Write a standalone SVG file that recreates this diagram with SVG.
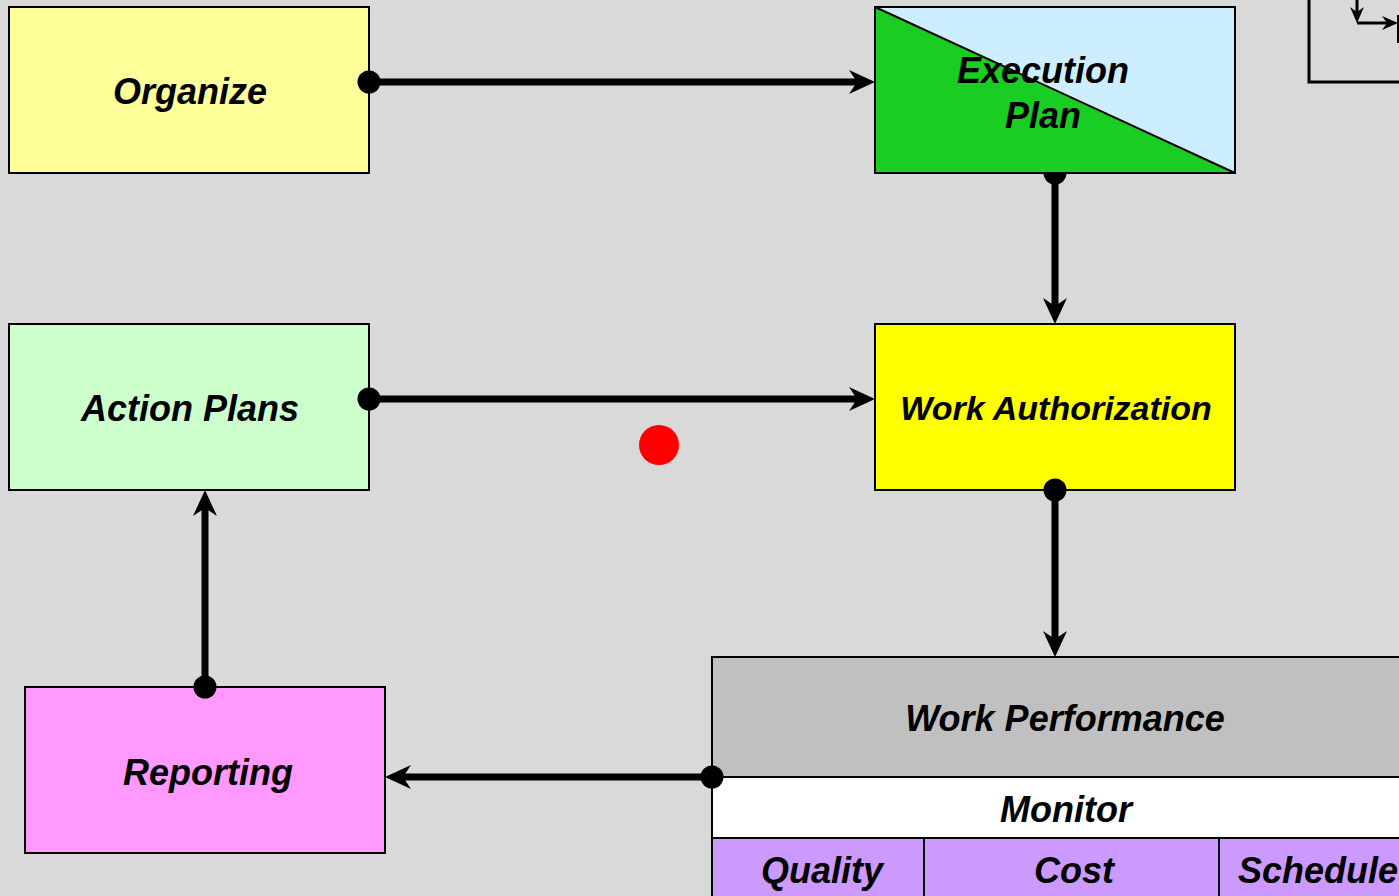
<svg xmlns="http://www.w3.org/2000/svg" width="1399" height="896" viewBox="0 0 1399 896">
<style>
.node{stroke:#000;stroke-width:2}
.lbl{font-family:"Liberation Sans",Arial,sans-serif;font-weight:bold;font-style:italic;font-size:36px;fill:#000;text-anchor:middle}
.conn{fill:none;stroke:#000;stroke-width:7;marker-start:url(#dot);marker-end:url(#arr)}
.thin{fill:none;stroke:#000;stroke-width:3}
</style>
<defs>
<marker id="arr" markerUnits="userSpaceOnUse" markerWidth="26" markerHeight="26" viewBox="0 0 26 26" refX="9" refY="13" orient="auto" overflow="visible">
<path d="M0,1 L26,13 L0,25 L8,13 Z" fill="#000"/>
</marker>
<marker id="dot" markerUnits="userSpaceOnUse" markerWidth="24" markerHeight="24" viewBox="0 0 24 24" refX="12" refY="12" orient="auto" overflow="visible">
<circle cx="12" cy="12" r="11.5" fill="#000"/>
</marker>
<marker id="sarr" markerUnits="userSpaceOnUse" markerWidth="16" markerHeight="16" viewBox="0 0 16 16" refX="6" refY="8" orient="auto" overflow="visible">
<path d="M0,1 L16,8 L0,15 L5,8 Z" fill="#000"/>
</marker>
</defs>
<rect x="0" y="0" width="1399" height="896" fill="#d9d9d9"/>

<g id="legend-box">
<rect x="1309" y="-10" width="120" height="92" fill="none" stroke="#000" stroke-width="3"/>
<path d="M1357,0 V13" class="thin" marker-end="url(#sarr)"/>
<path d="M1357,23 H1388" class="thin" marker-end="url(#sarr)"/>
<path d="M1398,15 V43" stroke="#000" stroke-width="2"/>
</g>

<g id="organize">
<rect class="node" x="9" y="7" width="360" height="166" fill="#ffff99"/>
<text class="lbl" x="190" y="104">Organize</text>
</g>

<g id="action-plans">
<rect class="node" x="9" y="324" width="360" height="166" fill="#ccffcc"/>
<text class="lbl" x="190" y="421">Action Plans</text>
</g>

<g id="work-authorization">
<rect class="node" x="875" y="324" width="360" height="166" fill="#ffff00"/>
<text class="lbl" x="1056" y="420" style="font-size:34px">Work Authorization</text>
</g>

<g id="reporting">
<rect class="node" x="25" y="687" width="360" height="166" fill="#ff99ff"/>
<text class="lbl" x="208" y="785">Reporting</text>
</g>

<g id="work-performance">
<rect class="node" x="712" y="657" width="710" height="120" fill="#c0c0c0"/>
<text class="lbl" x="1065" y="731">Work Performance</text>
<rect class="node" x="712" y="777" width="710" height="61" fill="#ffffff"/>
<text class="lbl" x="1066" y="822">Monitor</text>
<rect class="node" x="712" y="838" width="212" height="70" fill="#cc99ff"/>
<text class="lbl" x="822" y="883">Quality</text>
<rect class="node" x="924" y="838" width="295" height="70" fill="#cc99ff"/>
<text class="lbl" x="1074" y="883">Cost</text>
<rect class="node" x="1219" y="838" width="203" height="70" fill="#cc99ff"/>
<text class="lbl" x="1238" y="883" style="text-anchor:start">Schedule</text>
</g>

<circle id="red-dot" cx="659" cy="445" r="20" fill="#ff0000"/>

<g id="connectors">
<path class="conn" d="M369,82 H858"/>
<path class="conn" d="M1055,173 V307"/>
<path class="conn" d="M369,399 H858"/>
<path class="conn" d="M1055,490 V640"/>
<path class="conn" d="M712,777 H402"/>
<path class="conn" d="M205,687 V507"/>
</g>

<g id="execution-plan">
<rect x="875" y="7" width="360" height="166" fill="#cceeff"/>
<path d="M875,7 L1235,173 H875 Z" fill="#1acd22"/>
<line x1="875" y1="7" x2="1235" y2="173" stroke="#000" stroke-width="2"/>
<rect class="node" x="875" y="7" width="360" height="166" fill="none"/>
<text class="lbl" x="1043" y="83">Execution</text>
<text class="lbl" x="1043" y="128">Plan</text>
</g>
</svg>
